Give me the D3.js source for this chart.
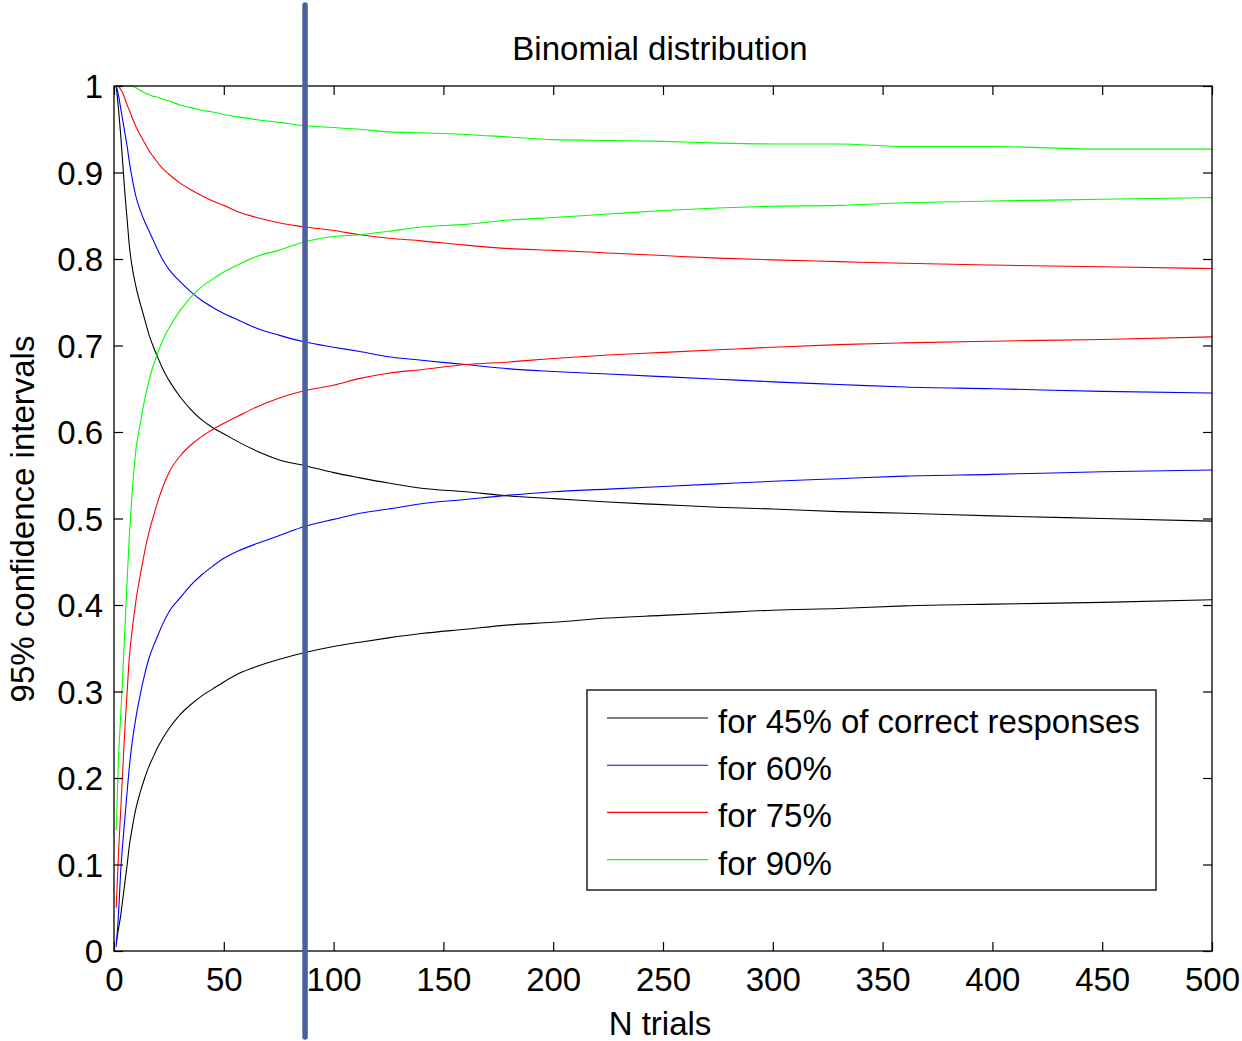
<!DOCTYPE html>
<html><head><meta charset="utf-8">
<script src="https://cdn.jsdelivr.net/npm/d3@7"></script>
<style>
body{margin:0;background:#fff}
svg{display:block}
text{font-family:"Liberation Sans",Arial,sans-serif;fill:#000}
</style>
</head><body>
<svg id="chart" width="1242" height="1041"></svg>
<script>
// ---- data ----
const trials = [1,2,3,4,5,6,7,8,10,12,14,16,18,20,22,25,30,35,40,45,50,57,65,75,87,100,112,125,140,160,180,200,225,250,275,300,330,360,400,450,500];

const upper45 = [1.0,0.975,0.945,0.91,0.875,0.845,0.815,0.795,0.768,0.748,0.73,0.712,0.698,0.686,0.674,0.66,0.641,0.626,0.614,0.605,0.598,0.588,0.578,0.568,0.561,0.553,0.547,0.541,0.535,0.531,0.526,0.523,0.519,0.516,0.513,0.511,0.508,0.506,0.503,0.500,0.497];
const lower45 = [0.01,0.025,0.04,0.06,0.08,0.1,0.122,0.138,0.165,0.184,0.2,0.214,0.225,0.236,0.245,0.257,0.273,0.285,0.295,0.303,0.311,0.321,0.329,0.337,0.345,0.352,0.357,0.362,0.367,0.372,0.377,0.380,0.385,0.388,0.391,0.394,0.396,0.399,0.401,0.403,0.406];

const upper60 = [1.0,0.99,0.975,0.96,0.945,0.93,0.912,0.897,0.872,0.856,0.843,0.832,0.821,0.81,0.8,0.788,0.774,0.762,0.752,0.744,0.737,0.729,0.72,0.712,0.704,0.698,0.693,0.687,0.683,0.678,0.673,0.670,0.667,0.664,0.661,0.658,0.655,0.652,0.650,0.647,0.645];
const lower60 = [0.005,0.04,0.09,0.125,0.155,0.185,0.213,0.236,0.27,0.297,0.32,0.339,0.353,0.365,0.377,0.392,0.408,0.423,0.435,0.445,0.454,0.463,0.471,0.48,0.491,0.499,0.506,0.511,0.517,0.522,0.527,0.531,0.534,0.537,0.540,0.543,0.546,0.549,0.551,0.554,0.556];

const upper75 = [1.0,1.0,0.996,0.992,0.985,0.978,0.972,0.965,0.953,0.943,0.934,0.925,0.918,0.911,0.905,0.898,0.888,0.88,0.873,0.867,0.862,0.854,0.848,0.842,0.837,0.833,0.828,0.824,0.821,0.816,0.812,0.810,0.807,0.804,0.801,0.799,0.797,0.795,0.793,0.791,0.789];
const lower75 = [0.05,0.11,0.16,0.21,0.26,0.30,0.34,0.365,0.405,0.435,0.462,0.485,0.503,0.52,0.535,0.553,0.572,0.585,0.595,0.603,0.61,0.619,0.629,0.639,0.648,0.654,0.662,0.668,0.672,0.678,0.681,0.685,0.689,0.692,0.695,0.698,0.701,0.703,0.705,0.707,0.710];

const upper90 = [1,1,1,1,1,1,1,1,0.998,0.995,0.992,0.99,0.988,0.987,0.985,0.983,0.978,0.975,0.972,0.97,0.967,0.964,0.961,0.958,0.954,0.952,0.95,0.947,0.946,0.944,0.941,0.938,0.937,0.936,0.934,0.933,0.933,0.930,0.930,0.927,0.927];
const lower90 = [0.14,0.22,0.27,0.32,0.375,0.43,0.48,0.52,0.58,0.61,0.638,0.66,0.678,0.692,0.705,0.72,0.74,0.756,0.768,0.777,0.785,0.794,0.803,0.81,0.82,0.826,0.828,0.832,0.837,0.840,0.845,0.848,0.852,0.856,0.859,0.861,0.862,0.865,0.867,0.869,0.871];

const seriesLabels = ["for 45% of correct responses","for 60%","for 75%","for 90%"];
const seriesColors = ["#000000","#0000ff","#ff0000","#00ff00"];
const xTicks = [0,50,100,150,200,250,300,350,400,450,500];
const yTicks = [0,0.1,0.2,0.3,0.4,0.5,0.6,0.7,0.8,0.9,1];
const markerN = 87;
const titleText = "Binomial distribution";
const xLabel = "N trials";
const yLabel = "95% confidence intervals";

// ---- drawing ----
const FS = 33;
const svg = d3.select("#chart");
const L = 114, R = 1212, T = 86, B = 951;
const x = d3.scaleLinear().domain([0,500]).range([L,R]);
const y = d3.scaleLinear().domain([0,1]).range([B,T]);

svg.append("rect").attr("width",1242).attr("height",1041).attr("fill","#fff");

const series = [
  {lo: lower45, hi: upper45},
  {lo: lower60, hi: upper60},
  {lo: lower75, hi: upper75},
  {lo: lower90, hi: upper90}
];

svg.append("defs").append("clipPath").attr("id","clip")
  .append("rect").attr("x",L).attr("y",T-1).attr("width",R-L+1).attr("height",B-T+2);

const line = d3.line().x(d=>x(d[0])).y(d=>y(d[1])).curve(d3.curveMonotoneX);
const g = svg.append("g").attr("clip-path","url(#clip)");
series.forEach((s,i)=>{
  [s.hi, s.lo].forEach(arr=>{
    g.append("path")
      .attr("d", line(trials.map((n,k)=>[n, arr[k]])))
      .attr("fill","none").attr("stroke",seriesColors[i]).attr("stroke-width",1.1);
  });
});

// axes box and inward ticks
const axG = svg.append("g");
axG.append("rect").attr("x",L).attr("y",T).attr("width",R-L).attr("height",B-T)
  .attr("fill","none").attr("stroke","#000").attr("stroke-width",1.3);

const xb = d3.axisBottom(x).tickValues(xTicks).tickSize(-9).tickFormat(d=>d);
const xt = d3.axisTop(x).tickValues(xTicks).tickSize(-9).tickFormat("");
const yl = d3.axisLeft(y).tickValues(yTicks).tickSize(-9).tickFormat(d=>String(+d.toFixed(1)));
const yr = d3.axisRight(y).tickValues(yTicks).tickSize(-9).tickFormat("");

function styleAxis(sel){
  sel.select(".domain").remove();
  sel.selectAll(".tick line").attr("stroke","#000").attr("stroke-width",1.2);
  sel.selectAll(".tick text").attr("font-size",FS).attr("font-family",'"Liberation Sans",Arial,sans-serif').attr("fill","#000");
}
axG.append("g").attr("transform",`translate(0,${B})`).call(xb).call(styleAxis)
  .selectAll(".tick text").attr("y",17).attr("dy","0.71em");
axG.append("g").attr("transform",`translate(0,${T})`).call(xt).call(styleAxis);
axG.append("g").attr("transform",`translate(${L},0)`).call(yl).call(styleAxis)
  .selectAll(".tick text").attr("x",-11).attr("dy","0.35em");
axG.append("g").attr("transform",`translate(${R},0)`).call(yr).call(styleAxis);

// title & labels
svg.append("text").attr("x",660).attr("y",60).attr("text-anchor","middle").attr("font-size",FS).text(titleText);
svg.append("text").attr("x",660).attr("y",1035).attr("text-anchor","middle").attr("font-size",FS).text(xLabel);
svg.append("text").attr("transform","translate(34,519) rotate(-90)").attr("text-anchor","middle").attr("font-size",FS).text(yLabel);

// legend
const lg = svg.append("g");
lg.append("rect").attr("x",587).attr("y",690).attr("width",569).attr("height",200)
  .attr("fill","#fff").attr("stroke","#000").attr("stroke-width",1.3);
seriesLabels.forEach((lab,i)=>{
  const yy = 718 + i*47.2;
  lg.append("line").attr("x1",607).attr("x2",708).attr("y1",yy).attr("y2",yy)
    .attr("stroke",seriesColors[i]).attr("stroke-width",1.1);
  lg.append("text").attr("x",718).attr("y",yy+15).attr("font-size",FS).text(lab);
});

// vertical marker line
svg.append("line").attr("x1",x(markerN)).attr("x2",x(markerN)).attr("y1",5).attr("y2",1037)
  .attr("stroke","#4a5f9e").attr("stroke-width",5.5).attr("stroke-linecap","round");
</script>
</body></html>
